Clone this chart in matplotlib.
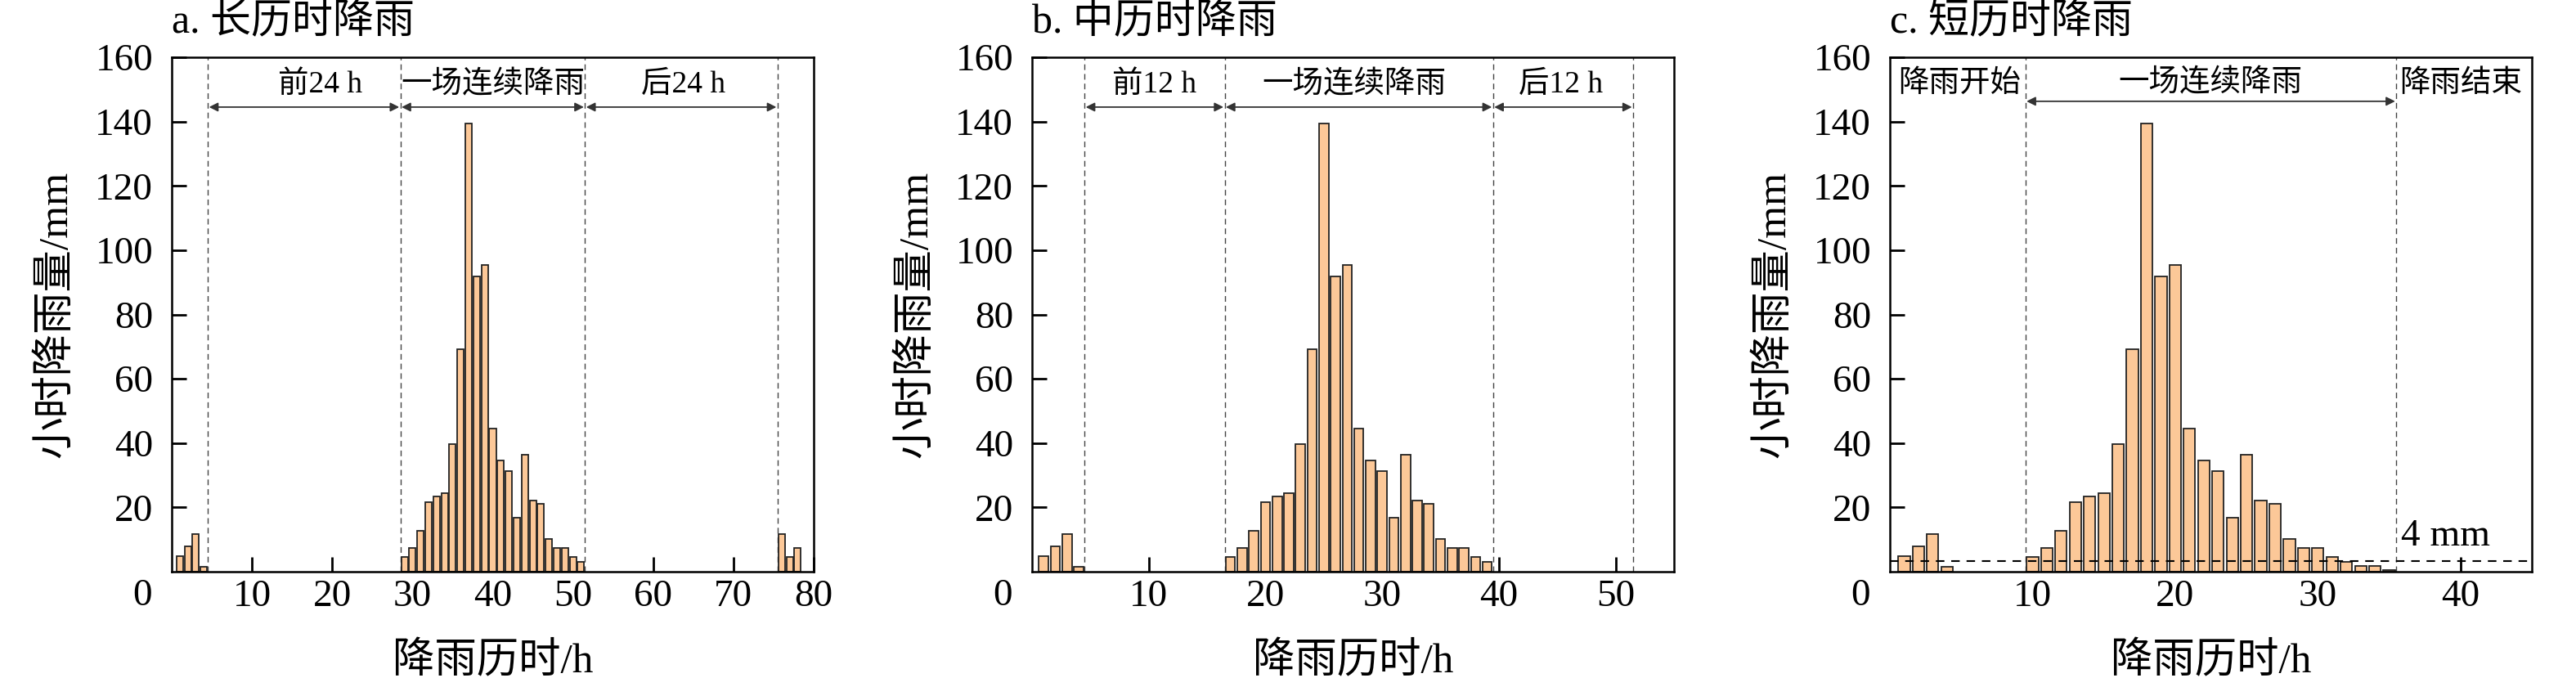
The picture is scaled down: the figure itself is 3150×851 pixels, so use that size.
import numpy as np
import matplotlib
matplotlib.use("Agg")
import matplotlib.pyplot as plt

plt.rcParams['font.family'] = ['Liberation Serif', 'Noto Sans CJK SC']
plt.rcParams['axes.unicode_minus'] = False

# hourly rainfall (mm)
pre_rain = [4.8, 7.8, 11.7, 1.6]            # hours 1-4
storm = [4.5, 7.5, 12.6, 21.5, 23.4, 24.4, 39.6, 69.2, 139.5, 91.8, 95.3,
         44.4, 34.5, 31.3, 16.7, 36.3, 22.2, 21.0, 10.3, 7.5, 7.5, 4.5,
         3.0, 1.8, 1.8, 0.5]
post_rain_a = [11.7, 4.5, 7.5]              # hours 76-78, panel a only

titles = ['a. 长历时降雨', 'b. 中历时降雨', 'c. 短历时降雨']
xmax = [80, 55, 45]
storm_start = [29, 17, 10]
storm_len = [23, 23, 26]
bounds = [[4.5, 28.5, 51.5, 75.5], [4.5, 16.5, 39.5, 51.5], [9.5, 35.5]]
seg_a = [('前24 h', 18.5), ('一场连续降雨', 40.0), ('后24 h', 63.8)]
seg_b = [('前12 h', 10.5), ('一场连续降雨', 27.6), ('后12 h', 45.3)]
seg_c = [('降雨开始', 4.9), ('一场连续降雨', 22.45), ('降雨结束', 40.0)]
threshold = 3.3   # drawn "4 mm" line

bar_color = '#FCC898'
edge_color = '#222222'

fig = plt.figure(figsize=(31.5, 8.51), dpi=100)
lefts = [210 / 3150, 1262 / 3150, 2311 / 3150]
W, B, H = 785 / 3150, 152 / 851, 629 / 851

for k in range(3):
    ax = fig.add_axes([lefts[k], B, W, H])
    # bars
    hrs = list(range(1, 5))
    vals = list(pre_rain)
    hrs += list(range(storm_start[k], storm_start[k] + storm_len[k]))
    vals += storm[:storm_len[k]]
    if k == 0:
        hrs += [76, 77, 78]
        vals += post_rain_a
    ax.bar(hrs, vals, width=0.82, color=bar_color, edgecolor=edge_color,
           linewidth=1.3, zorder=2)

    for xb in bounds[k]:
        ax.axvline(xb, color='#444444', lw=1.0, ls=(0, (5, 3.5)), zorder=1)

    if k < 2:
        segs = seg_a if k == 0 else seg_b
        b = bounds[k]
        for i in range(3):
            ax.annotate('', xy=(b[i], 144.5), xytext=(b[i + 1], 144.5),
                        arrowprops=dict(arrowstyle='<|-|>', color='#333333', lw=1.3,
                                        mutation_scale=16, shrinkA=1, shrinkB=1))
            ax.text(segs[i][1], 151.5, segs[i][0], ha='center', va='center', fontsize=27)
    else:
        ax.annotate('', xy=(bounds[2][0], 146.3), xytext=(bounds[2][1], 146.3),
                    arrowprops=dict(arrowstyle='<|-|>', color='#333333', lw=1.3,
                                    mutation_scale=16, shrinkA=1, shrinkB=1))
        for txt, xc in seg_c:
            ax.text(xc, 151.8, txt, ha='center', va='center', fontsize=27)
        ax.axhline(threshold, color='black', lw=1.5, ls=(0, (5, 4)), zorder=3)
        ax.text(35.8, 11, '4 mm', ha='left', va='center', fontsize=34)

    ax.set_xlim(0, xmax[k])
    ax.set_ylim(0, 160)
    ax.set_xticks(np.arange(10, xmax[k] + 1, 10))
    ax.set_yticks(np.arange(20, 161, 20))
    ax.tick_params(direction='in', length=13, width=2, labelsize=34)
    ax.tick_params(axis='x', pad=6.5)
    ax.tick_params(axis='y', pad=16.5)
    ax.annotate('0', xy=(0, 0), xycoords='axes fraction', xytext=(-36, -9),
                textcoords='offset pixels', ha='center', va='top', fontsize=34)
    for sp in ax.spines.values():
        sp.set_linewidth(1.8)

    ax.set_xlabel('降雨历时/h', fontsize=37)
    ax.set_ylabel('小时降雨量/mm', fontsize=37)
    ax.xaxis.set_label_coords(0.5, -0.137)
    ax.yaxis.set_label_coords(-0.15, 0.5)
    ax.text(0.0, 1.068, titles[k], transform=ax.transAxes, ha='left', va='center',
            fontsize=36)

fig.savefig('out.png', dpi=100)
